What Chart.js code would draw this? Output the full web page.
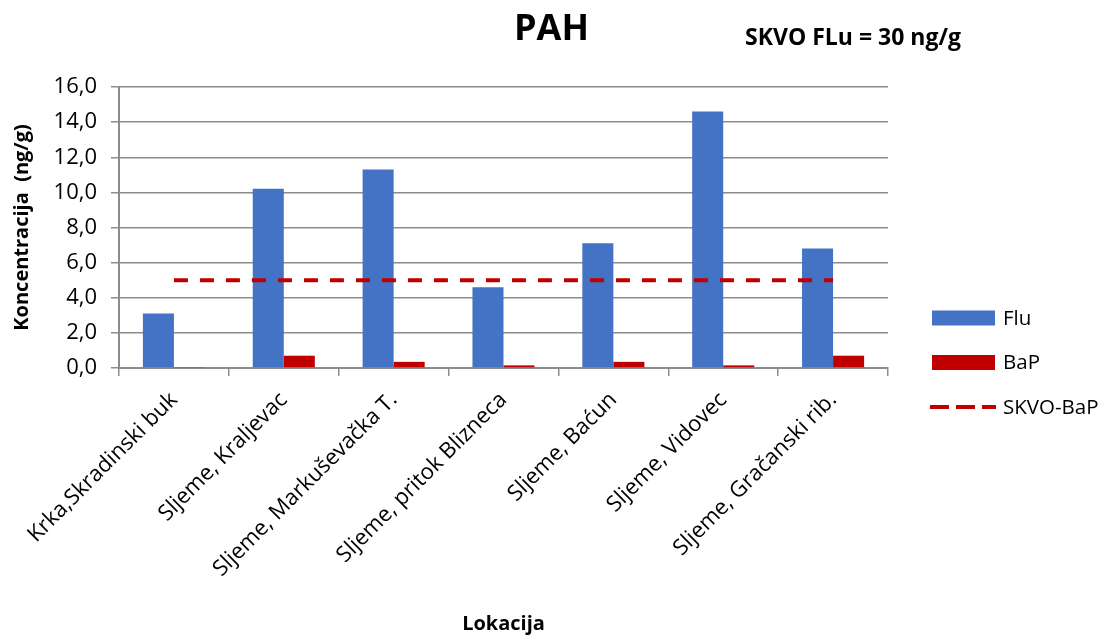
<!DOCTYPE html>
<html><head><meta charset="utf-8">
<script src="https://cdn.jsdelivr.net/npm/chart.js@4.4.0/dist/chart.umd.min.js"></script>
<style>html,body{margin:0;padding:0;background:#fff;}#wrap{width:1103px;height:636px;position:relative;}</style>
</head><body><div id="wrap"><canvas id="c" width="1103" height="636"></canvas></div>
<script>
const categories = ['Krka,Skradinski buk', 'Sljeme, Kraljevac', 'Sljeme, Markuševačka T.', 'Sljeme, pritok Blizneca', 'Sljeme, Baćun', 'Sljeme, Vidovec', 'Sljeme, Gračanski rib.'];
const fluValues = [3.1, 10.2, 11.3, 4.6, 7.1, 14.6, 6.8];
const bapValues = [0.03, 0.7, 0.35, 0.15, 0.35, 0.15, 0.7];
const skvoBapValues = [5, 5, 5, 5, 5, 5, 5];
const yTickLabels = ['0,0', '2,0', '4,0', '6,0', '8,0', '10,0', '12,0', '14,0', '16,0'];
const seriesNames = ['Flu', 'BaP', 'SKVO-BaP'];
const chartTitle = 'PAH';
const noteText = 'SKVO FLu = 30 ng/g';
const yAxisTitle = 'Koncentracija  (ng/g)';
const xAxisTitle = 'Lokacija';

const FONT = 'Open Sans';
const GRID = '#8c8c8c';

const sideLegend = {
  id: 'sideLegend',
  afterDraw(chart) {
    const ctx = chart.ctx;
    const area = chart.chartArea;
    const x0 = area.right + 44;
    const yStart = 318, step = 44.5;
    ctx.save();
    // titles
    ctx.fillStyle = '#000';
    ctx.textAlign = 'center';
    ctx.textBaseline = 'middle';
    ctx.font = 'bold 36px "' + FONT + '"';
    ctx.fillText(chartTitle, chart.width / 2, 30);
    ctx.textAlign = 'left';
    ctx.textBaseline = 'alphabetic';
    ctx.font = 'bold 23px "' + FONT + '"';
    ctx.fillText(noteText, 745, 45);
    // legend
    chart.data.datasets.forEach((ds, i) => {
      const y = yStart + i * step;
      if (ds.type === 'line') {
        ctx.strokeStyle = ds.borderColor;
        ctx.lineWidth = 4;
        ctx.setLineDash([19, 7]);
        ctx.beginPath();
        ctx.moveTo(x0 - 2, y);
        ctx.lineTo(x0 + 64, y);
        ctx.stroke();
        ctx.setLineDash([]);
      } else {
        ctx.fillStyle = ds.backgroundColor;
        ctx.fillRect(x0, y - 7.5, 63, 15);
      }
      ctx.fillStyle = '#000';
      ctx.font = '20.5px "' + FONT + '"';
      ctx.textBaseline = 'middle';
      ctx.textAlign = 'left';
      ctx.fillText(ds.label, x0 + 71, y + 1);
    });
    ctx.restore();
  }
};

new Chart(document.getElementById('c'), {
  data: {
    labels: categories,
    datasets: [
      { type: 'bar', label: seriesNames[0], data: fluValues, backgroundColor: '#4472C4', borderWidth: 0, categoryPercentage: 0.565, barPercentage: 1.0, order: 1 },
      { type: 'bar', label: seriesNames[1], data: bapValues, backgroundColor: '#C00000', borderWidth: 0, categoryPercentage: 0.565, barPercentage: 1.0, order: 1 },
      { type: 'line', label: seriesNames[2], data: skvoBapValues, borderColor: '#C00000', borderWidth: 4, borderDash: [14, 12], pointRadius: 0, fill: false, order: 0 }
    ]
  },
  options: {
    responsive: false,
    animation: false,
    layout: { padding: { left: 0, right: 215, top: 87, bottom: 0 } },
    plugins: {
      legend: { display: false },
      tooltip: { enabled: false },
      title: { display: false }
    },
    scales: {
      x: {
        offset: true,
        grid: { display: true, drawOnChartArea: false, drawTicks: true, tickLength: 8, color: GRID, lineWidth: 1.5, offset: true },
        border: { display: true, color: GRID, width: 2 },
        ticks: { maxRotation: 45, minRotation: 45, autoSkip: false, color: '#000', font: { family: FONT, size: 22 }, padding: 11 },
        title: { display: true, text: xAxisTitle, color: '#000', font: { family: FONT, size: 20, weight: 'bold' }, padding: { top: 0, bottom: 0 } },
        afterFit(s) { s.height = 268; }
      },
      y: {
        min: 0, max: 16,
        ticks: { stepSize: 2, callback: (v, i) => yTickLabels[i], color: '#000', font: { family: FONT, size: 22 }, padding: 14 },
        grid: { color: GRID, lineWidth: 1.5, tickLength: 8 },
        border: { display: true, color: GRID, width: 2 },
        title: { display: true, text: yAxisTitle, color: '#000', font: { family: FONT, size: 20, weight: 'bold' }, padding: { top: 10, bottom: 0 } },
        afterFit(s) { s.width = 119; }
      }
    }
  },
  plugins: [sideLegend]
});
</script></body></html>
